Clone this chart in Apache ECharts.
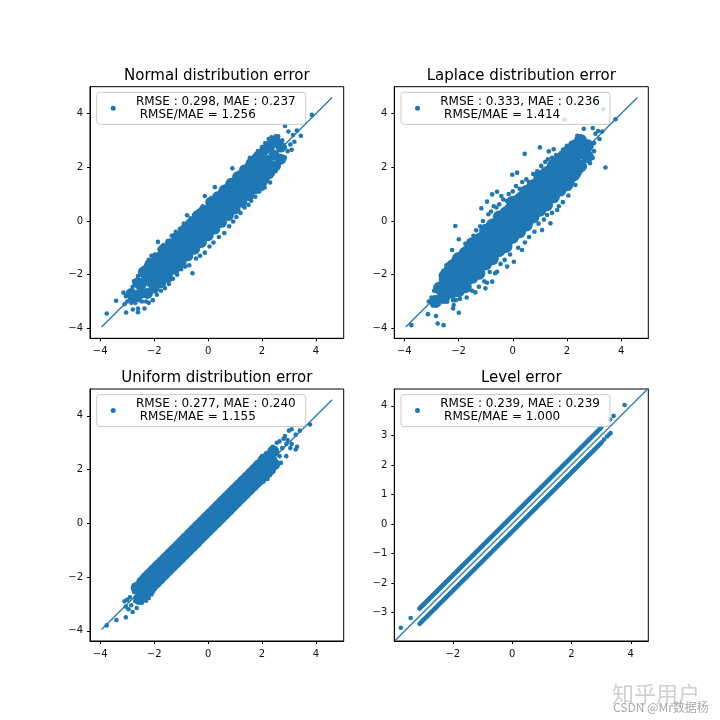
<!DOCTYPE html>
<html><head><meta charset="utf-8">
<script src="https://cdn.jsdelivr.net/npm/echarts@6/dist/echarts.min.js"></script>
<style>html,body{margin:0;background:#fff}#c{width:720px;height:720px}</style></head>
<body><div id="c"></div>
<script>
// Values estimated by eye. The original has thousands of overlapping points, so each dense cloud is a
// hand-read sample: "Core"/"Mid" dots are drawn wider to stand for many points, "Pts" are read edge points
// and outliers, and the Level error strips are thick lines between their read end points.
const titles = ["Normal distribution error","Laplace distribution error","Uniform distribution error","Level error"];
const legendNames = [
"    RMSE : 0.298, MAE : 0.237\n     RMSE/MAE = 1.256",
"    RMSE : 0.333, MAE : 0.236\n     RMSE/MAE = 1.414",
"    RMSE : 0.277, MAE : 0.240\n     RMSE/MAE = 1.155",
"    RMSE : 0.239, MAE : 0.239\n     RMSE/MAE = 1.000"];
const ticks = [-4,-2,0,2,4];
const ticksLevelX = [-2,0,2,4];
const ticksLevelY = [-3,-2,-1,0,1,2,3,4];
const refLine = [[-3.95,-3.95],[4.6,4.6]];

const normalCore = [[-2.0,-2.0],[-1.8,-1.82],[-1.6,-1.57],[-1.4,-1.43],[-1.2,-1.17],[-1,-1.03],[-.8,-.78],[-.6,-.62],[-.4,-.38],[-.2,-.22],[0,.02],[.2,.18],[.4,.42],[.6,.58],[.8,.82],[1,.98],[1.2,1.22],[1.4,1.38],[1.6,1.62],[1.8,1.78],[1.95,1.97]];
const normalMid = [[-2.6,-2.3],[-2.4,-1.9],[-2.15,-1.6],[-1.9,-1.4],[-1.65,-1.05],[-1.4,-.85],[-1.15,-.6],[-.9,-.35],[-.65,-.1],[-.4,.2],[-.15,.4],[.1,.7],[.35,.9],[.6,1.15],[.85,1.4],[1.1,1.65],[1.35,1.9],[1.6,2.15],[1.85,2.4],[2.1,2.65],[2.3,2.8],[2.5,2.95],[-2.75,-2.85],[-2.5,-2.7],[-2.25,-2.7],[-2,-2.5],[-1.75,-2.3],[-1.5,-2.1],[-1.25,-1.8],[-1,-1.55],[-.75,-1.3],[-.5,-1.05],[-.25,-.8],[0,-.55],[.25,-.3],[.5,-.05],[.75,.2],[1,.45],[1.25,.7],[1.5,.95],[1.75,1.2],[2,1.45],[2.25,1.75],[2.5,2.05],[2.7,2.3],[-2.85,-2.7],[-2.5,-2.4],[-2.2,-2.2],[2.2,2.25],[2.45,2.45],[2.7,2.75]];
const normalPts = [[-3.76,-3.45],[-3.41,-2.97],[-3.14,-2.67],[-3.04,-3.41],[-2.6,-3.26],[-2.6,-3.4],[-2.36,-3.26],[-2.79,-3.3],[-3.05,-2.8],[-3.0,-3.0],[-3.1,-3.1],[-2.95,-2.7],[-2.9,-2.9],[-2.85,-3.05],[-2.8,-2.45],[-2.75,-2.25],[-2.85,-2.6],[-2.7,-3.05],[-2.65,-2.2],[-2.6,-2.05],[-2.5,-2.0],[-2.55,-2.95],[-2.45,-3.0],[-2.4,-1.75],[-2.3,-1.65],[-2.3,-3.0],[-2.2,-3.05],[-2.2,-1.45],[-2.1,-1.3],[-2.05,-2.95],[-1.98,-1.25],[-1.9,-2.75],[-1.86,-.78],[-1.8,-1.05],[-1.75,-2.6],[-1.65,-.9],[-1.6,-2.5],[-1.5,-.75],[-1.45,-2.35],[-1.35,-.55],[-1.3,-2.15],[-1.2,-.4],[-1.15,-2.0],[-1.05,-.3],[-1.0,-1.8],[-.9,-.1],[-.85,-1.7],[-.78,.21],[-.7,-1.65],[-.65,.1],[-.58,-1.95],[-.5,.2],[-.45,-1.4],[-.35,.38],[-.3,-1.3],[-.2,.55],[-.12,.93],[-.12,-1.18],[0,.68],[.05,-.95],[.12,.85],[.2,-.8],[.25,1.26],[.3,.95],[.4,-.6],[.45,1.1],[.55,1.15],[.6,-.45],[.7,1.35],[.78,-.2],[.85,1.5],[.9,1.96],[.93,-.02],[1.0,1.65],[1.05,.15],[1.15,1.8],[1.2,.3],[1.3,1.95],[1.35,.5],[1.45,2.1],[1.5,.6],[1.55,2.35],[1.6,.75],[1.7,2.4],[1.75,.9],[1.85,2.6],[1.9,1.1],[2.0,2.75],[2.0,1.2],[2.1,1.25],[2.12,2.9],[2.2,1.5],[2.3,1.43],[2.25,3.05],[2.35,3.12],[2.4,1.75],[2.5,3.15],[2.5,1.85],[2.6,3.15],[2.6,2.1],[2.75,3.0],[2.85,2.36],[2.85,2.75],[2.85,3.54],[2.98,3.33],[2.95,2.6],[3.05,2.85],[3.1,2.65],[3.15,3.2],[3.2,2.95],[3.29,3.37],[3.44,3.17],[3.85,3.95]];

const laplaceCore = [[-2.0,-2.0],[-1.8,-1.77],[-1.6,-1.62],[-1.4,-1.37],[-1.2,-1.22],[-1,-.97],[-.8,-.82],[-.6,-.57],[-.4,-.42],[-.2,-.17],[0,-.02],[.2,.23],[.4,.38],[.6,.63],[.8,.78],[1,1.03],[1.2,1.18],[1.4,1.43],[1.6,1.58],[1.8,1.83],[2.0,1.98]];
const laplaceMid = [[-2.7,-2.5],[-2.5,-2.05],[-2.25,-1.7],[-2,-1.4],[-1.75,-1.2],[-1.5,-.85],[-1.25,-.7],[-1,-.35],[-.75,-.15],[-.5,.15],[-.25,.3],[0,.7],[.25,.8],[.5,1.1],[.75,1.3],[1,1.65],[1.25,1.8],[1.5,2.05],[1.75,2.25],[2,2.55],[2.25,2.75],[2.5,3.0],[-2.85,-3.0],[-2.55,-2.85],[-2.25,-2.65],[-2,-2.6],[-1.75,-2.45],[-1.5,-2.1],[-1.25,-1.95],[-1,-1.6],[-.75,-1.4],[-.5,-1.1],[-.25,-.95],[0,-.6],[.25,-.4],[.5,-.15],[.75,.15],[1,.4],[1.25,.6],[1.5,.9],[1.75,1.15],[2,1.35],[2.25,1.75],[2.5,2.05],[2.75,2.4],[-2.5,-2.45],[-2.25,-2.2],[2.25,2.25],[2.5,2.55],[2.75,2.8]];
const laplacePts = [[-2.12,-.19],[-2.24,-1.08],[-1.99,-.68],[-.76,.99],[-.58,1.09],[-.42,.93],[-1.16,.47],[-.95,.72],[-.02,1.72],[.16,1.8],[.44,2.5],[1.0,2.74],[1.33,2.59],[1.51,2.67],[1.76,2.52],[3.42,1.99],[2.31,1.34],[2.07,1.22],[2.38,3.17],[2.62,3.43],[2.95,3.46],[3.3,3.33],[3.79,3.79],[3.34,4.17],[1.91,3.77],[-3.74,-3.88],[-2.77,-3.82],[-2.55,-3.88],[-2.83,-3.54],[-3.13,-3.47],[-1.99,-3.42],[-2.2,-3.26],[-2.18,-3.13],[-2.42,-3.01],[-1.38,-2.66],[-1.01,-2.51],[-.76,-2.26],[-.58,-1.89],[.04,-1.52],[-.21,-1.7],[.34,-1.08],[1.08,-.34],[1.39,-.09],[1.27,.22],[1.64,.41],[-3.1,-3.0],[-3.0,-2.85],[-2.95,-3.15],[-2.9,-2.6],[-2.8,-2.9],[-2.75,-2.4],[-2.7,-3.0],[-2.65,-2.2],[-2.55,-1.85],[-2.5,-2.95],[-2.4,-2.85],[-2.45,-1.65],[-2.3,-1.55],[-2.2,-2.95],[-2.1,-2.95],[-1.95,-2.9],[-1.85,-1.1],[-1.7,-2.85],[-1.75,-.85],[-1.6,-.75],[-1.5,-2.6],[-1.45,-.55],[-1.35,-.35],[-1.25,-2.45],[-1.2,-.2],[-1.1,0],[-1.05,-2.25],[-.95,-2.3],[-.9,.25],[-.8,.35],[-.85,-1.9],[-.7,.55],[-.65,-1.95],[-.6,.5],[-.5,.62],[-.45,-1.6],[-.35,.8],[-.3,-1.45],[-.22,.75],[-.15,1.0],[-.1,-1.25],[0,1.1],[.12,1.3],[.2,-1.0],[.25,1.2],[.35,1.45],[.45,-.8],[.5,1.55],[.6,1.45],[.6,-.6],[.75,1.75],[.8,-.4],[.9,1.85],[.95,-.1],[1.05,2.05],[1.15,.05],[1.2,2.2],[1.3,2.3],[1.45,.3],[1.45,2.35],[1.6,2.45],[1.7,.55],[1.85,2.65],[1.85,.7],[2.0,2.8],[2.05,.95],[2.15,2.9],[2.2,1.45],[2.25,2.95],[2.35,1.6],[2.45,2.95],[2.5,1.85],[2.6,3.0],[2.65,2.0],[2.8,2.95],[2.85,2.15],[2.95,2.35],[3.0,2.9],[3.05,3.25],[3.0,2.6],[3.15,3.35],[3.2,3.05]];

const uniformCore = [[-2.2,-2.2],[-2.05,-2.05],[-1.9,-1.9],[-1.75,-1.75],[-1.6,-1.6],[-1.45,-1.45],[-1.3,-1.3],[-1.15,-1.15],[-1,-1],[-.85,-.85],[-.7,-.7],[-.55,-.55],[-.4,-.4],[-.25,-.25],[-.1,-.1],[.05,.05],[.2,.2],[.35,.35],[.5,.5],[.65,.65],[.8,.8],[.95,.95],[1.1,1.1],[1.25,1.25],[1.4,1.4],[1.55,1.55],[1.7,1.7],[1.85,1.85],[2.0,2.0]];
const uniformMid = [[-2.65,-2.4],[-2.55,-2.8],[-2.45,-2.2],[-2.35,-2.6],[-2.25,-2.0],[-2.15,-2.45],[-2.5,-2.5],[2.05,2.35],[2.1,1.8],[2.25,2.5],[2.3,2.0],[2.42,2.68],[2.45,2.2],[2.35,2.35]];
const uniformPts = [[-3.76,-3.8],[-3.4,-3.6],[-3.05,-3.5],[-3.0,-2.85],[-3.1,-2.9],[-3.05,-3.1],[-2.95,-3.2],[-2.9,-2.75],[-2.85,-3.05],[-2.8,-3.3],[-2.75,-2.55],[-2.7,-2.9],[-2.65,-3.15],[-2.6,-2.3],[-2.6,-2.95],[-2.5,-2.15],[-2.5,-2.95],[-2.45,-2.95],[-2.35,-2.0],[-2.3,-2.88],[-2.2,-1.95],[-2.2,-2.78],[-2.1,-2.65],[2.0,2.5],[2.05,1.55],[2.15,2.6],[2.2,1.65],[2.3,2.72],[2.3,1.8],[2.4,2.85],[2.4,1.95],[2.5,2.6],[2.55,3.0],[2.55,2.15],[2.65,3.05],[2.65,2.5],[2.7,2.25],[2.75,2.8],[2.8,3.15],[2.85,3.25],[2.9,2.5],[2.9,2.95],[2.95,3.1],[3.0,3.45],[3.1,3.5],[3.05,2.8],[3.1,2.95],[3.25,3.3],[3.3,2.85],[3.25,2.75],[3.4,3.45],[3.78,3.68]];

const levelUpper = [[-3.12,-2.86],[3.0,3.26]];
const levelLower = [[-3.12,-3.38],[3.02,2.76]];
const levelPts = [[-3.75,-3.51],[-3.42,-3.18],[3.1,2.86],[3.2,2.96],[3.27,3.03],[3.32,3.08],[3.3,3.54],[3.42,3.66],[3.79,4.03]];

const blue = "#1f77b4", font = "DejaVu Sans";
const panels = [
 {box:[90,86.7,253.7,251.6], x:[-4.38,5.03], y:[-4.37,5.0], xt:ticks, yt:ticks, core:normalCore, mid:normalMid, pts:normalPts, coreSize:27, midSize:11, size:4.6, strips:[]},
 {box:[394.3,86.7,254,251.6], x:[-4.37,5.0], y:[-4.37,5.0], xt:ticks, yt:ticks, core:laplaceCore, mid:laplaceMid, pts:laplacePts, coreSize:32, midSize:13, size:4.6, strips:[]},
 {box:[90,389,253.7,252], x:[-4.38,5.03], y:[-4.38,5.0], xt:ticks, yt:ticks, core:uniformCore, mid:uniformMid, pts:uniformPts, coreSize:22, midSize:12, size:4.6, strips:[]},
 {box:[394.3,389,254,252], x:[-3.97,4.59], y:[-3.96,4.57], xt:ticksLevelX, yt:ticksLevelY, core:[], mid:[], pts:levelPts, coreSize:6, midSize:6, size:4.6, strips:[levelUpper,levelLower]}
];
const axisFor = (range, vals, margin, padding) => ({
  type:"value", min:range[0], max:range[1],
  splitLine:{show:false}, axisLine:{show:true, onZero:false, lineStyle:{color:"#000", width:1}},
  axisTick:{show:true, length:3, customValues:vals, lineStyle:{color:"#000", width:1}},
  axisLabel:{show:true, customValues:vals, margin, padding, color:"#111", fontFamily:font, fontSize:10, hideOverlap:false, showMinLabel:true, showMaxLabel:true,
    formatter:v=>String(v).replace("-","\u2212")}
});
const option = {
  animation:false, backgroundColor:"#fff",
  title:panels.map((p,i)=>({text:titles[i], left:p.box[0]+p.box[2]/2, top:p.box[1]-19, textAlign:"center",
    textStyle:{fontFamily:font, fontSize:15, fontWeight:"normal", color:"#000", lineHeight:17}, padding:0})),
  grid:panels.map(p=>({left:p.box[0], top:p.box[1], width:p.box[2], height:p.box[3], show:true, borderColor:"#000", borderWidth:1, backgroundColor:"#fff"})),
  xAxis:panels.map((p,i)=>({...axisFor(p.x,p.xt,8,0), gridIndex:i})),
  yAxis:panels.map((p,i)=>({...axisFor(p.y,p.yt,7,[2,0,0,0]), gridIndex:i})),
  legend:panels.map((p,i)=>({data:[{name:legendNames[i], icon:"circle"}], orient:"vertical", left:p.box[0]+6.7, top:p.box[1]+5.6,
    itemWidth:5, itemHeight:5, padding:[3,10,3,14], borderColor:"#ccc", borderWidth:1, borderRadius:3, backgroundColor:"rgba(255,255,255,0.8)",
    selectedMode:false, textStyle:{fontFamily:font, fontSize:12, color:"#000", lineHeight:13}})),
  series:panels.flatMap((p,i)=>[
    {type:"scatter", name:"Core "+(i+1), xAxisIndex:i, yAxisIndex:i, data:p.core, symbolSize:p.coreSize, itemStyle:{color:blue, opacity:1}, silent:true},
    {type:"scatter", name:"Mid "+(i+1), xAxisIndex:i, yAxisIndex:i, data:p.mid, symbolSize:p.midSize, itemStyle:{color:blue, opacity:1}, silent:true},
    {type:"scatter", name:legendNames[i], xAxisIndex:i, yAxisIndex:i, data:p.pts, symbolSize:p.size, itemStyle:{color:blue, opacity:1}, silent:true},
    ...p.strips.map((s,j)=>({type:"line", name:"Strip "+(j+1), xAxisIndex:i, yAxisIndex:i, data:s, showSymbol:false, symbol:"none", lineStyle:{color:blue, width:4.6, cap:"round"}, silent:true})),
    {type:"line", name:"Reference "+(i+1), xAxisIndex:i, yAxisIndex:i, data:refLine, showSymbol:false, symbol:"none", lineStyle:{color:blue, width:1.3}, silent:true}
  ]),
  graphic:[
    {type:"text", left:612, top:683, z:100, style:{text:"知乎用户", fill:"#d0d0d0", font:'22px "Noto Sans CJK SC"'}},
    {type:"text", left:613, top:701, z:100, style:{text:"CSDN @Mr数据杨", fill:"#a8a8a8", font:'12px "Noto Sans CJK SC"'}}
  ]
};
echarts.init(document.getElementById("c"),null,{renderer:"canvas"}).setOption(option);
</script></body></html>
